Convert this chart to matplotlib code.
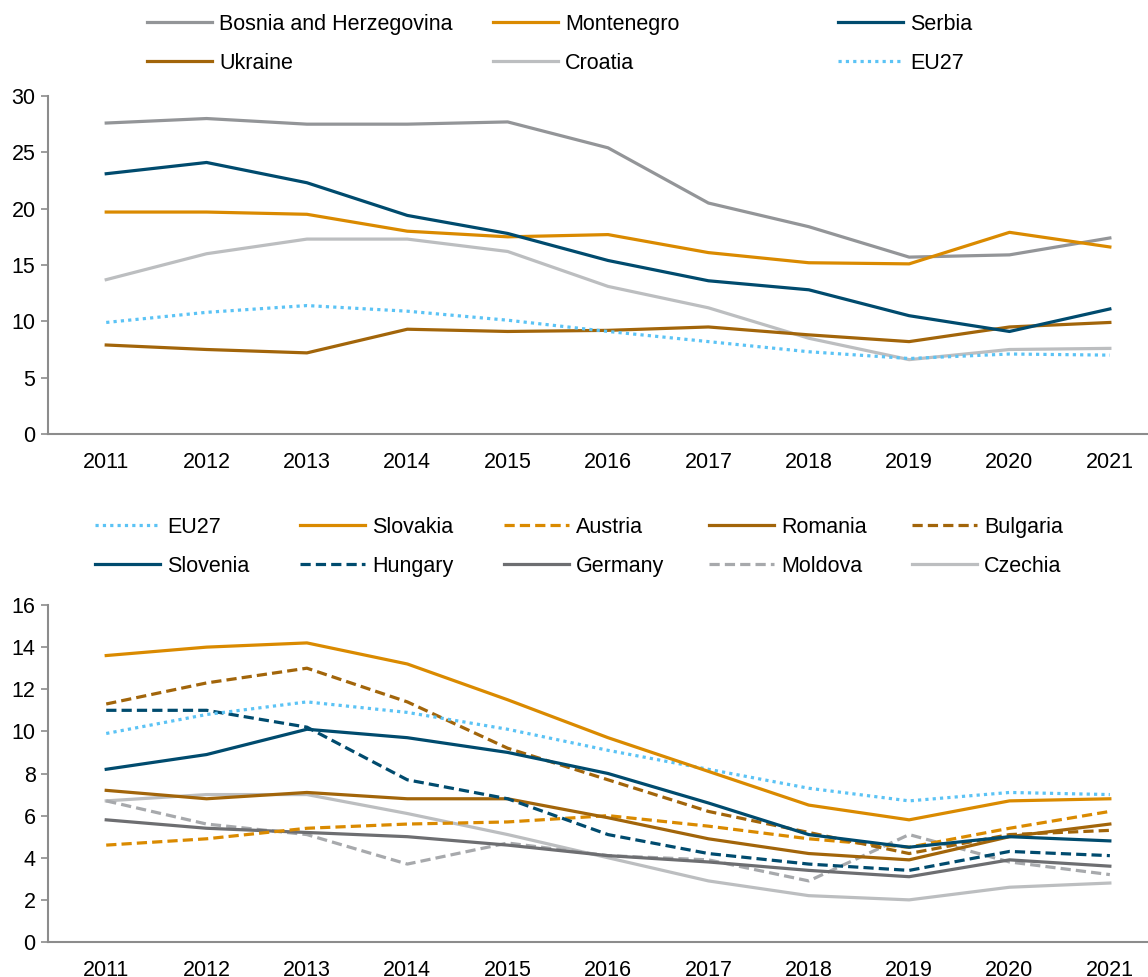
import matplotlib
matplotlib.use("Agg")
import matplotlib.pyplot as plt

plt.rcParams['font.family'] = ['Liberation Sans', 'DejaVu Sans']

years = [2011, 2012, 2013, 2014, 2015, 2016, 2017, 2018, 2019, 2020, 2021]

# Top chart
bosnia = [27.6, 28.0, 27.5, 27.5, 27.7, 25.4, 20.5, 18.4, 15.7, 15.9, 17.4]
montenegro = [19.7, 19.7, 19.5, 18.0, 17.5, 17.7, 16.1, 15.2, 15.1, 17.9, 16.6]
serbia = [23.1, 24.1, 22.3, 19.4, 17.8, 15.4, 13.6, 12.8, 10.5, 9.1, 11.1]
ukraine = [7.9, 7.5, 7.2, 9.3, 9.1, 9.2, 9.5, 8.8, 8.2, 9.5, 9.9]
croatia = [13.7, 16.0, 17.3, 17.3, 16.2, 13.1, 11.2, 8.5, 6.6, 7.5, 7.6]
eu27 = [9.9, 10.8, 11.4, 10.9, 10.1, 9.1, 8.2, 7.3, 6.7, 7.1, 7.0]

# Bottom chart
slovakia = [13.6, 14.0, 14.2, 13.2, 11.5, 9.7, 8.1, 6.5, 5.8, 6.7, 6.8]
austria = [4.6, 4.9, 5.4, 5.6, 5.7, 6.0, 5.5, 4.9, 4.5, 5.4, 6.2]
romania = [7.2, 6.8, 7.1, 6.8, 6.8, 5.9, 4.9, 4.2, 3.9, 5.0, 5.6]
bulgaria = [11.3, 12.3, 13.0, 11.4, 9.2, 7.7, 6.2, 5.2, 4.2, 5.1, 5.3]
slovenia = [8.2, 8.9, 10.1, 9.7, 9.0, 8.0, 6.6, 5.1, 4.5, 5.0, 4.8]
hungary = [11.0, 11.0, 10.2, 7.7, 6.8, 5.1, 4.2, 3.7, 3.4, 4.3, 4.1]
germany = [5.8, 5.4, 5.2, 5.0, 4.6, 4.1, 3.8, 3.4, 3.1, 3.9, 3.6]
moldova = [6.7, 5.6, 5.1, 3.7, 4.7, 4.1, 3.9, 2.9, 5.1, 3.8, 3.2]
czechia = [6.7, 7.0, 7.0, 6.1, 5.1, 4.0, 2.9, 2.2, 2.0, 2.6, 2.8]

C_BLUE = '#004B6E'
C_GOLD = '#DA8A00'
C_BROWN = '#A2650A'
C_GRAY = '#939598'
C_LGRAY = '#BCBEC0'
C_SKY = '#5BC3F5'
C_DGRAY = '#6D6E71'
C_MGRAY = '#A7A9AC'

LW = 2.3
DASH = (3.2, 1.6)
DOT = (1.0, 1.3)

W, H = 1148, 977
fig = plt.figure(figsize=(W / 100, H / 100), dpi=100)

def px_axes(x0, y0, x1, y1):
    return fig.add_axes([x0 / W, 1 - y1 / H, (x1 - x0) / W, (y1 - y0) / H])

FS = 15.5
AX_COLOR = '#8C8C8C'

def style(ax, ymax, step):
    ax.set_xlim(2010.42, 2021.38)
    ax.set_ylim(0, ymax)
    ax.set_xticks(years)
    ax.set_xticklabels([str(y) for y in years])
    ax.set_yticks(range(0, ymax + 1, step))
    for s in ['top', 'right']:
        ax.spines[s].set_visible(False)
    for s in ['left', 'bottom']:
        ax.spines[s].set_color(AX_COLOR)
        ax.spines[s].set_linewidth(1.5)
    ax.tick_params(axis='x', length=0, pad=13, labelsize=FS)
    ax.tick_params(axis='y', length=5, width=1.2, color=AX_COLOR, pad=4, labelsize=FS)

def place_legend(handles, labels, x, y):
    fig.legend(handles, labels, loc='upper left', bbox_to_anchor=(x / W, 1 - y / H),
               frameon=False, fontsize=FS, handlelength=3.0, handletextpad=0.35,
               borderpad=0, borderaxespad=0, labelspacing=0.82)

# Top axes
ax1 = px_axes(48, 96, 1148, 434)
l_bos, = ax1.plot(years, bosnia, color=C_GRAY, lw=LW)
l_mon, = ax1.plot(years, montenegro, color=C_GOLD, lw=LW)
l_cro, = ax1.plot(years, croatia, color=C_LGRAY, lw=LW)
l_ukr, = ax1.plot(years, ukraine, color=C_BROWN, lw=LW)
l_eu1, = ax1.plot(years, eu27, color=C_SKY, lw=LW, linestyle=(0, DOT))
l_ser, = ax1.plot(years, serbia, color=C_BLUE, lw=LW)
style(ax1, 30, 5)

place_legend([l_bos, l_ukr], ['Bosnia and Herzegovina', 'Ukraine'], 147, 14)
place_legend([l_mon, l_cro], ['Montenegro', 'Croatia'], 493, 14)
place_legend([l_ser, l_eu1], ['Serbia', 'EU27'], 838, 14)

# Bottom axes
ax2 = px_axes(48, 605, 1148, 942)
l_cze, = ax2.plot(years, czechia, color=C_LGRAY, lw=LW)
l_mol, = ax2.plot(years, moldova, color=C_MGRAY, lw=LW, linestyle=(0, DASH))
l_ger, = ax2.plot(years, germany, color=C_DGRAY, lw=LW)
l_aus, = ax2.plot(years, austria, color=C_GOLD, lw=LW, linestyle=(0, DASH))
l_rom, = ax2.plot(years, romania, color=C_BROWN, lw=LW)
l_bul, = ax2.plot(years, bulgaria, color=C_BROWN, lw=LW, linestyle=(0, DASH))
l_hun, = ax2.plot(years, hungary, color=C_BLUE, lw=LW, linestyle=(0, DASH))
l_slo, = ax2.plot(years, slovenia, color=C_BLUE, lw=LW)
l_eu2, = ax2.plot(years, eu27, color=C_SKY, lw=LW, linestyle=(0, DOT))
l_svk, = ax2.plot(years, slovakia, color=C_GOLD, lw=LW)
style(ax2, 16, 2)

place_legend([l_eu2, l_slo], ['EU27', 'Slovenia'], 95, 517)
place_legend([l_svk, l_hun], ['Slovakia', 'Hungary'], 300, 517)
place_legend([l_aus, l_ger], ['Austria', 'Germany'], 504, 517)
place_legend([l_rom, l_mol], ['Romania', 'Moldova'], 709, 517)
place_legend([l_bul, l_cze], ['Bulgaria', 'Czechia'], 912, 517)

fig.savefig('out.png', dpi=100)
